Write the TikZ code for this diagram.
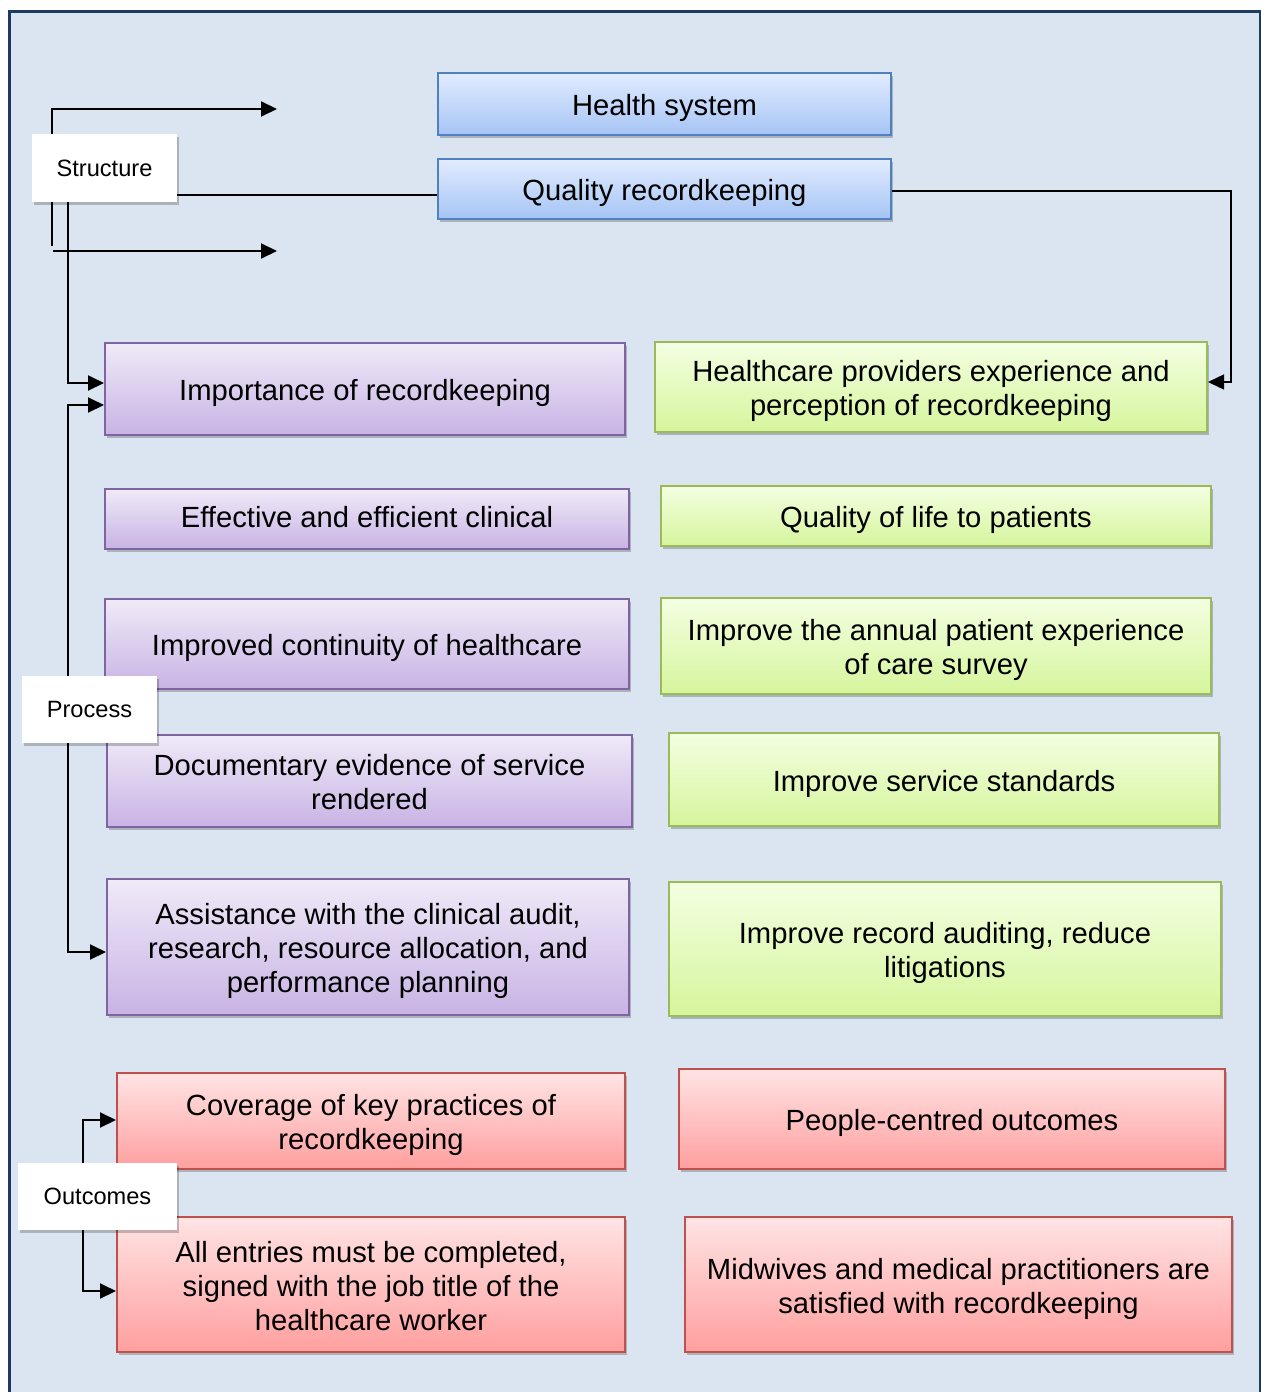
\documentclass[tikz,border=0pt]{standalone}
\usepackage{fontspec}
\setmainfont{Liberation Sans}
\usetikzlibrary{arrows.meta,shadows}
\definecolor{panelbg}{HTML}{DBE5F1}
\definecolor{panelrule}{HTML}{1F3A5F}
\definecolor{blueedge}{HTML}{4F81BD}
\definecolor{bluetop}{HTML}{E2ECFF}
\definecolor{bluebot}{HTML}{A5C4F4}
\definecolor{purpleedge}{HTML}{8064A2}
\definecolor{purpletop}{HTML}{EFEAF8}
\definecolor{purplebot}{HTML}{C8B3E4}
\definecolor{greenedge}{HTML}{9BBB59}
\definecolor{greentop}{HTML}{F3FFE2}
\definecolor{greenbot}{HTML}{D6F59C}
\definecolor{rededge}{HTML}{C0504D}
\definecolor{redtop}{HTML}{FFE4E4}
\definecolor{redbot}{HTML}{FF9F9F}
\tikzset{
  box/.style={rectangle, line width=1pt, inner sep=0pt,
    drop shadow={shadow xshift=1.2pt, shadow yshift=-1.5pt, opacity=0.22, fill=black}},
  bluebox/.style={box, draw=blueedge, top color=bluetop, bottom color=bluebot},
  purplebox/.style={box, draw=purpleedge, top color=purpletop, bottom color=purplebot},
  greenbox/.style={box, draw=greenedge, top color=greentop, bottom color=greenbot},
  redbox/.style={box, draw=rededge, top color=redtop, bottom color=redbot},
  boxtext/.style={align=center, inner sep=0pt, font=\fontsize{14.6pt}{17pt}\selectfont},
  tag/.style={rectangle, fill=white, inner sep=0pt, align=center,
    font=\fontsize{11.8pt}{14pt}\selectfont,
    drop shadow={shadow xshift=1.2pt, shadow yshift=-1.5pt, opacity=0.22, fill=black}},
  conn/.style={line width=1pt, draw=black},
  thinconn/.style={line width=0.75pt, draw=black},
  tip/.tip={Triangle[length=8pt, width=7.5pt]}
}
\begin{document}
\begin{tikzpicture}[x=0.5pt, y=-0.5pt]
\useasboundingbox (0,0) rectangle (1261,1392);
% panel
\fill[panelbg] (9,11) rectangle (1260,1405);
\draw[panelrule, line width=1.5pt] (9,1405) -- (9,11) -- (1260,11) -- (1260,1405);

% helper coordinates for the vertical rails and free arrow ends
\coordinate (xa) at (52,0);
\coordinate (xb) at (68,0);
\coordinate (tipA) at (277,109);
\coordinate (stubB) at (52,246);
\coordinate (tailB) at (53,251);
\coordinate (tipB) at (277,251);
\coordinate (pb) at (68,952);
\coordinate (pc) at (83,1291);
\coordinate (rc) at (1231,191);

% structure boxes
\node[bluebox, minimum width=226.5pt, minimum height=31pt] (hs) at (664.5,104) {};
\node[bluebox, minimum width=226.5pt, minimum height=30pt] (qr) at (664.5,189) {};

% process boxes
\node[purplebox, minimum width=260pt, minimum height=46pt] (imp) at (365,389) {};
\node[purplebox, minimum width=262pt, minimum height=30pt] (eff) at (367,519) {};
\node[purplebox, minimum width=262pt, minimum height=45pt] (cont) at (367,644) {};
\node[purplebox, minimum width=262.5pt, minimum height=46pt] (doc) at (369.5,781) {};
\node[purplebox, minimum width=261pt, minimum height=68pt] (ass) at (368,947) {};

\node[greenbox, minimum width=276pt, minimum height=45pt] (g1) at (931,387) {};
\node[greenbox, minimum width=275pt, minimum height=30pt] (g2) at (936,516) {};
\node[greenbox, minimum width=275pt, minimum height=48pt] (g3) at (936,646) {};
\node[greenbox, minimum width=275pt, minimum height=46.5pt] (g4) at (944,779.5) {};
\node[greenbox, minimum width=276pt, minimum height=67pt] (g5) at (945,949) {};

% outcome boxes
\node[redbox, minimum width=254pt, minimum height=48pt] (r1) at (371,1121) {};
\node[redbox, minimum width=273pt, minimum height=50pt] (r2) at (952,1119) {};
\node[redbox, minimum width=254pt, minimum height=67.5pt] (r3) at (371,1284.5) {};
\node[redbox, minimum width=273.5pt, minimum height=67.5pt] (r4) at (958.5,1284.5) {};

% box texts, set a little below the geometric centre
\node[boxtext] (hs-t) at ([yshift=-2pt]hs.center) {Health system};
\node[boxtext] (qr-t) at ([yshift=-2pt]qr.center) {Quality recordkeeping};
\node[boxtext] (imp-t) at ([yshift=-2pt]imp.center) {Importance of recordkeeping};
\node[boxtext] (eff-t) at ([yshift=1pt]eff.center) {Effective and efficient clinical};
\node[boxtext] (cont-t) at ([yshift=-2pt]cont.center) {Improved continuity of healthcare};
\node[boxtext] (doc-t) at ([yshift=-0.5pt]doc.center) {Documentary evidence of service\\rendered};
\node[boxtext] (ass-t) at ([yshift=-2pt]ass.center) {Assistance with the clinical audit,\\research, resource allocation, and\\performance planning};
\node[boxtext] (g1-t) at ([yshift=-2pt]g1.center) {Healthcare providers experience and\\perception of recordkeeping};
\node[boxtext] (g2-t) at ([yshift=-2pt]g2.center) {Quality of life to patients};
\node[boxtext] (g3-t) at ([yshift=-2pt]g3.center) {Improve the annual patient experience\\of care survey};
\node[boxtext] (g4-t) at ([yshift=-2pt]g4.center) {Improve service standards};
\node[boxtext] (g5-t) at ([yshift=-2pt]g5.center) {Improve record auditing, reduce\\litigations};
\node[boxtext] (r1-t) at ([yshift=-2pt]r1.center) {Coverage of key practices of\\recordkeeping};
\node[boxtext] (r2-t) at ([yshift=-2pt]r2.center) {People-centred outcomes};
\node[boxtext] (r3-t) at ([yshift=-1pt]r3.center) {All entries must be completed,\\signed with the job title of the\\healthcare worker};
\node[boxtext] (r4-t) at ([yshift=-2pt]r4.center) {Midwives and medical practitioners are\\satisfied with recordkeeping};

% section tags: outlines first so the rails can attach to them
\path node[minimum width=72.5pt, minimum height=34pt, inner sep=0pt] (struct) at (104.5,168) {}
      node[minimum width=67.5pt, minimum height=33.5pt, inner sep=0pt] (proc) at (89.5,709.5) {}
      node[minimum width=79.5pt, minimum height=33.5pt, inner sep=0pt] (outc) at (97.5,1196.5) {};

% connectors
\draw[conn, -tip] (struct.north -| xa) |- (tipA);
\draw[conn] (struct.south -| xa) -- (stubB);
\draw[conn, -tip] (tailB) -- (tipB);
\coordinate (qa) at ([yshift=-3pt]qr.west);
\draw[conn] (qa -| struct.east) -- (qa);
\draw[conn, -tip] (struct.south -| xb) |- ([yshift=3pt]imp.west);
\draw[conn, tip-tip] ([yshift=-8pt]imp.west) -| (pb) -- ([yshift=-2.5pt]ass.west);
\draw[conn, tip-tip] ([yshift=0.5pt]r1.west) -| (pc) -- ([yshift=-3.25pt]r3.west);
\draw[thinconn, -tip] ([yshift=-1pt]qr.east) -- (rc) |- ([yshift=2.5pt]g1.east);

% tags on top of the rails
\node[tag, minimum width=72.5pt, minimum height=34pt] (struct-t) at (struct) {Structure};
\node[tag, minimum width=67.5pt, minimum height=33.5pt] (proc-t) at (proc) {Process};
\node[tag, minimum width=79.5pt, minimum height=33.5pt] (outc-t) at (outc) {Outcomes};
\end{tikzpicture}
\end{document}
